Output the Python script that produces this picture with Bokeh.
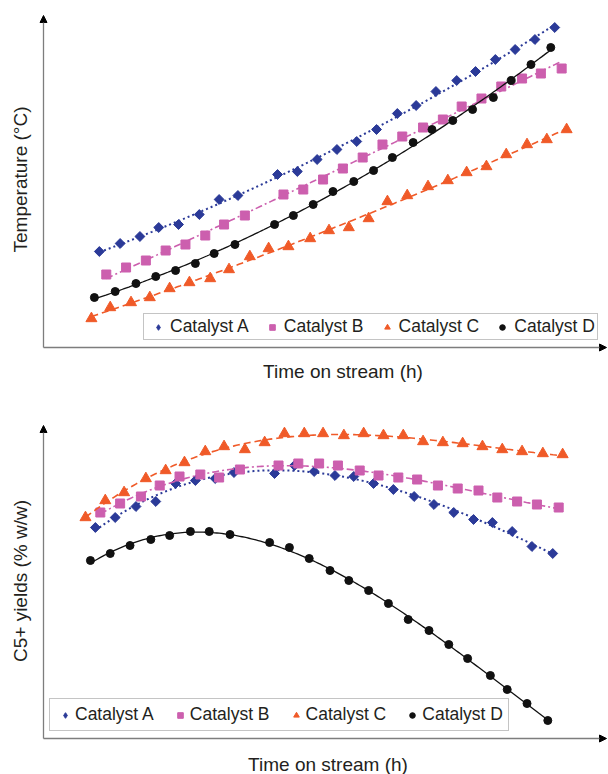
import numpy as np
from bokeh.plotting import figure
from bokeh.layouts import column
from bokeh.models import (Range1d, Legend, LegendItem, Arrow, NormalHead, Label)
from bokeh.embed import file_html
from bokeh.resources import INLINE

# ---------------- data: temperature vs time on stream (top panel) ----------------
t_top_A = [5.8, 7.9, 9.9, 11.8, 13.8, 15.9, 17.9, 19.8, 23.8, 25.8, 27.8, 29.8, 31.8, 33.8,
           35.9, 37.8, 39.8, 41.9, 43.8, 45.8, 47.8, 49.8, 51.8]
temp_A = [298, 302, 305.5, 310, 311.5, 316.5, 324, 326, 336.5, 338, 344, 349, 353, 359,
          367, 371, 378, 383.5, 388, 394, 399, 404, 410]

t_top_B = [6.5, 8.5, 10.5, 12.5, 14.5, 16.5, 18.4, 20.5, 24.4, 26.4, 28.4, 30.4, 32.4, 34.4,
           36.4, 38.5, 40.5, 42.4, 44.4, 46.4, 48.5, 50.4, 52.5]
temp_B = [286.5, 290, 293.5, 298.5, 301.5, 306, 311.5, 316, 326.5, 329, 334, 339.5, 345, 351.5,
          355.5, 360, 364, 370.5, 374.5, 380.5, 384.5, 387, 389.5]

t_top_C = [5.0, 6.9, 9.0, 10.9, 12.9, 14.9, 17.0, 18.9, 21.0, 22.9, 24.9, 27.1, 29.0, 31.0,
           33.0, 34.9, 36.9, 39.0, 41.0, 42.9, 44.9, 46.9, 49.0, 51.0, 53.0]
temp_C = [264.5, 270, 272.5, 275, 279.5, 282.5, 284.5, 289, 295.5, 299.5, 300.5, 304.5, 308.5, 310,
          314.5, 323, 326, 330.5, 333.5, 337.5, 340.5, 346.5, 351.5, 354, 359]

t_top_D = [5.3, 7.4, 9.5, 11.5, 13.5, 15.5, 17.4, 19.5, 23.5, 25.4, 27.4, 29.4, 31.5, 33.5,
           35.4, 37.5, 39.4, 41.5, 43.5, 45.6, 47.4, 49.4, 51.4]
temp_D = [275, 278, 282, 285.5, 288.5, 292, 297, 301.5, 311.5, 316, 321.5, 328, 333, 338.5,
          345, 352.5, 359, 363.5, 369, 375, 383.5, 391.5, 400]

# ---------------- data: C5+ yield vs time on stream (bottom panel) ----------------
t_bot_A = [5.4, 7.4, 9.5, 11.5, 13.5, 15.5, 17.5, 19.4, 23.5, 25.5, 27.5, 29.6, 31.5, 33.5,
           35.5, 37.6, 39.6, 41.6, 43.6, 45.5, 47.5, 49.5, 51.6]
yield_A = [62.2, 64.2, 66.4, 67.4, 71.0, 71.6, 72.0, 73.2, 73.0, 74.6, 73.4, 72.6, 72.4, 71.0,
           69.8, 68.4, 66.8, 65.2, 63.8, 63.2, 61.4, 58.4, 57.0]

t_bot_B = [5.9, 7.9, 10.0, 11.9, 13.9, 16.0, 17.9, 20.0, 23.9, 25.9, 28.0, 29.9, 32.1, 34.0,
           36.0, 37.9, 40.0, 42.0, 44.1, 46.0, 48.0, 50.0, 52.2]
yield_B = [65.2, 67.0, 68.4, 70.6, 72.4, 72.8, 72.2, 73.8, 74.6, 75.0, 75.0, 74.6, 73.6, 72.6,
           72.2, 71.8, 70.6, 70.0, 69.6, 68.2, 67.4, 66.8, 66.2]

t_bot_C = [4.4, 6.4, 8.3, 10.5, 12.5, 14.4, 16.5, 18.4, 20.5, 22.5, 24.5, 26.5, 28.4, 30.5,
           32.5, 34.5, 36.5, 38.5, 40.5, 42.5, 44.5, 46.5, 48.5, 50.6, 52.6]
yield_C = [64.2, 67.6, 69.2, 72.0, 73.6, 75.2, 77.4, 78.4, 77.8, 79.2, 81.0, 81.0, 81.0, 80.6,
           81.0, 80.6, 80.6, 79.4, 79.2, 79.0, 78.4, 77.8, 77.4, 77.0, 76.8]

t_bot_D = [4.9, 6.9, 8.9, 11.0, 12.9, 15.0, 16.9, 19.0, 23.0, 25.0, 27.0, 29.1, 31.0, 33.0,
           35.0, 37.0, 39.1, 41.1, 43.0, 45.3, 47.0, 49.0, 51.1]
yield_D = [55.6, 57.0, 58.6, 59.8, 60.6, 61.4, 61.4, 60.8, 59.2, 58.2, 56.0, 53.6, 51.6, 49.6,
           47.0, 43.8, 41.6, 38.8, 36.0, 32.6, 29.8, 27.0, 23.6]

series_names = ["Catalyst A", "Catalyst B", "Catalyst C", "Catalyst D"]
x_label = "Time on stream (h)"
y_label_top = "Temperature (°C)"
y_label_bot = "C5+ yields (% w/w)"

# ---------------- styles / layout ----------------
COLORS = ["#2B3A98", "#CC5FAE", "#F05A28", "#111111"]
MARKERS = ["square", "square", "triangle", "circle"]
ANGLES = [np.pi / 4, 0, 0, 0]
SIZES = [7, 9, 11, 8]
DASHES = ["2 3", "7 3 2 3", "7 4", "solid"]
LWIDTH = [2.0, 1.6, 1.6, 1.3]
FONT = "Liberation Sans"
TXT = "#231F20"
AXC = "#7d7d7d"

W = 608
PX_PER_H = 9.9            # horizontal scale, px per hour
AX_LEFT, AX_RIGHT = 43, 606
X0 = 0.16                 # time at the y axis
X1 = X0 + (AX_RIGHT - AX_LEFT) / PX_PER_H


def make_panel(xs_list, ys_list, yr, height, ax_top, ax_bottom, deg, ylab,
               legend_loc, leg_pad, leg_gw, leg_spacing, xlab_dx, xlab_dy, ylab_dy):
    ylo, yhi = yr
    upp = (yhi - ylo) / (ax_bottom - ax_top)     # data units per px (vertical)
    xr = Range1d(X0 - AX_LEFT / PX_PER_H, X0 + (W - AX_LEFT) / PX_PER_H)
    yrng = Range1d(ylo - (height - ax_bottom) * upp, yhi + ax_top * upp)
    p = figure(width=W, height=height, output_backend="svg", toolbar_location=None,
               x_range=xr, y_range=yrng, min_border=0)
    p.xaxis.visible = False
    p.yaxis.visible = False
    p.outline_line_color = None
    p.grid.visible = False
    p.background_fill_color = "white"
    p.border_fill_color = "white"

    # axes drawn as arrows
    p.add_layout(Arrow(end=NormalHead(size=7, fill_color="black", line_color="black"),
                       x_start=X0, y_start=ylo, x_end=X0, y_end=yhi,
                       line_color=AXC, line_width=1.3))
    p.add_layout(Arrow(end=NormalHead(size=7, fill_color="black", line_color="black"),
                       x_start=X0, y_start=ylo, x_end=X1, y_end=ylo,
                       line_color=AXC, line_width=1.3))

    items = []
    for i, (xs, ys, c, m, a, s, d, lw, name) in enumerate(zip(xs_list, ys_list, COLORS, MARKERS,
                                                           ANGLES, SIZES, DASHES, LWIDTH,
                                                           series_names)):
        xs = np.asarray(xs, float)
        ys = np.asarray(ys, float)
        coef = np.polyfit(xs, ys, deg)
        xf = np.linspace(xs.min(), xs.max(), 200)
        p.line(xf, np.polyval(coef, xf), line_color=c, line_width=lw, line_dash=d)
        r = p.scatter(xs, ys, marker=m, size=s, angle=a, fill_color=c, line_color=c)
        if i == 0:
            # legend glyph for the diamonds (single NaN row, not shown in the plot)
            r = p.scatter(x=[np.nan], y=[np.nan], marker="diamond", size=10,
                          fill_color=c, line_color=c)
        items.append(LegendItem(label=name, renderers=[r]))

    leg = Legend(items=items, orientation="horizontal", location=legend_loc,
                 label_text_font=FONT, label_text_font_size="17.5px", label_text_color=TXT,
                 border_line_color="#8a8a8a", border_line_width=1.2,
                 background_fill_color="white", background_fill_alpha=1.0,
                 padding=leg_pad, glyph_width=leg_gw, glyph_height=14,
                 label_standoff=0, spacing=leg_spacing, margin=0)
    p.add_layout(leg, "center")

    # axis titles
    p.add_layout(Label(x=(X0 + X1) / 2, y=ylo, x_offset=xlab_dx, y_offset=-xlab_dy,
                       text=x_label, text_align="center", text_baseline="alphabetic",
                       text_font=FONT, text_font_size="19px", text_color=TXT))
    p.add_layout(Label(x=X0, y=(ylo + yhi) / 2, x_offset=-23, y_offset=ylab_dy,
                       angle=np.pi / 2, text=ylab, text_align="center",
                       text_baseline="alphabetic",
                       text_font=FONT, text_font_size="19px", text_color=TXT))
    return p


top = make_panel([t_top_A, t_top_B, t_top_C, t_top_D], [temp_A, temp_B, temp_C, temp_D],
                 (250, 416), 390, 15, 347, 2, y_label_top,
                 (143, 50), 2, 24, 11, 18, 24, 2)
bot = make_panel([t_bot_A, t_bot_B, t_bot_C, t_bot_D], [yield_A, yield_B, yield_C, yield_D],
                 (20, 82.6), 384, 35, 348, 3, y_label_bot,
                 (49, 43), 5, 20, 16, 3, 26, 1)

layout = column(top, bot, spacing=0)
open("out.html", "w").write(file_html(layout, INLINE))
